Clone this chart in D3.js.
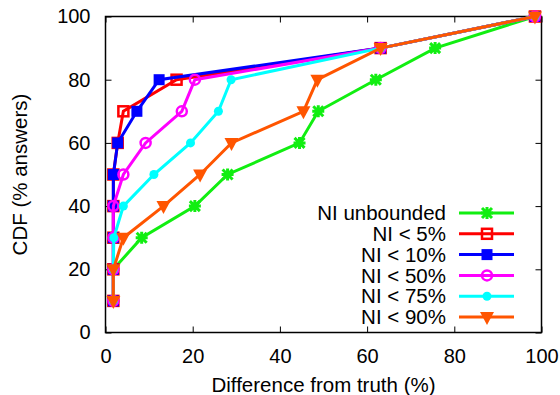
<!DOCTYPE html>
<html>
<head>
<meta charset="utf-8">
<script src="https://cdn.jsdelivr.net/npm/d3@7"></script>
<style>
  body { margin: 0; background: #fff; }
  text { font-family: "Liberation Sans", Arial, sans-serif; fill: #000; }
</style>
</head>
<body>
<svg id="chart"></svg>
<script>
// CDF levels (y) shared by every series
const cdf = [10, 20, 30, 40, 50, 60, 70, 80, 90, 100];

// difference from truth (%) at each CDF level
const niUnbounded = [1.8, 1.8, 8.3, 20.5, 28.0, 44.5, 48.8, 62.0, 75.6, 98.5];
const ni5  = [1.8, 1.8, 1.8, 1.8, 1.8, 2.8, 4.1, 16.3, 63.1, 98.5];
const ni10 = [1.8, 1.8, 1.8, 1.8, 1.8, 2.8, 7.2, 12.3, 63.1, 98.5];
const ni50 = [1.8, 1.8, 1.8, 1.8, 4.1, 9.2, 17.5, 20.5, 63.1, 98.5];
const ni75 = [1.8, 1.8, 1.9, 4.1, 11.1, 19.5, 25.9, 28.8, 63.1, 98.5];
const ni90 = [1.8, 1.8, 4.1, 13.3, 21.7, 28.9, 45.4, 48.6, 63.1, 98.5];

const seriesNames = ["NI unbounded", "NI < 5%", "NI < 10%", "NI < 50%", "NI < 75%", "NI < 90%"];
const xTicks = [0, 20, 40, 60, 80, 100];
const yTicks = [0, 20, 40, 60, 80, 100];

const width = 560, height = 395;
const margin = {left: 105.5, right: 18.5, top: 16.5, bottom: 62.5};

const svg = d3.select("#chart").attr("width", width).attr("height", height);

const x = d3.scaleLinear().domain([0, 100]).range([margin.left, width - margin.right]);
const y = d3.scaleLinear().domain([0, 100]).range([height - margin.bottom, margin.top]);

const series = [
  {name: seriesNames[0], xs: niUnbounded, color: "#11ee11", shape: "star"},
  {name: seriesNames[1], xs: ni5, color: "#ff0000", shape: "openSquare"},
  {name: seriesNames[2], xs: ni10, color: "#0000ff", shape: "square"},
  {name: seriesNames[3], xs: ni50, color: "#ff00ff", shape: "openCircle"},
  {name: seriesNames[4], xs: ni75, color: "#00ffff", shape: "circle"},
  {name: seriesNames[5], xs: ni90, color: "#ff5500", shape: "triangle"}
];

function marker(g, shape, color) {
  if (shape == "star") {
    g.append("path").attr("d", "M-5,-5L5,5M-5,5L5,-5M0,-6L0,6M-6,0L6,0")
      .attr("stroke", color).attr("stroke-width", 3);
  } else if (shape == "openSquare") {
    g.append("rect").attr("x", -5).attr("y", -5).attr("width", 10).attr("height", 10)
      .attr("fill", "none").attr("stroke", color).attr("stroke-width", 2.5);
  } else if (shape == "square") {
    g.append("rect").attr("x", -5.5).attr("y", -5.5).attr("width", 11).attr("height", 11)
      .attr("fill", color);
  } else if (shape == "openCircle") {
    g.append("circle").attr("r", 5).attr("fill", "none").attr("stroke", color).attr("stroke-width", 2.5);
  } else if (shape == "circle") {
    g.append("circle").attr("r", 4.5).attr("fill", color);
  } else {
    g.append("path").attr("d", "M-7,-5L7,-5L0,8Z").attr("fill", color);
  }
}

// axes, gnuplot style with inward ticks on all sides
const axes = svg.append("g");
axes.append("g").attr("transform", `translate(0,${y(0)})`)
  .call(d3.axisBottom(x).tickValues(xTicks).tickSize(-6).tickPadding(16));
axes.append("g").attr("transform", `translate(0,${y(100)})`)
  .call(d3.axisTop(x).tickValues(xTicks).tickSize(-6).tickFormat(""));
axes.append("g").attr("transform", `translate(${x(0)},0)`)
  .call(d3.axisLeft(y).tickValues(yTicks).tickSize(-6).tickPadding(15));
axes.append("g").attr("transform", `translate(${x(100)},0)`)
  .call(d3.axisRight(y).tickValues(yTicks).tickSize(-6).tickFormat(""));
axes.selectAll(".domain").remove();
axes.selectAll(".tick line").attr("stroke", "#000").attr("stroke-width", 1);
axes.selectAll("text").attr("font-size", 20).attr("font-family", "Liberation Sans, Arial, sans-serif");

svg.append("rect")
  .attr("x", x(0)).attr("y", y(100))
  .attr("width", x(100) - x(0)).attr("height", y(0) - y(100))
  .attr("fill", "none").attr("stroke", "#000").attr("stroke-width", 1.5);

const line = d3.line().x(d => x(d[0])).y(d => y(d[1]));

series.forEach(s => {
  const pts = s.xs.map((v, i) => [v, cdf[i]]);
  svg.append("path").datum(pts).attr("d", line)
    .attr("fill", "none").attr("stroke", s.color).attr("stroke-width", 3);
  pts.forEach(p => {
    marker(svg.append("g").attr("transform", `translate(${x(p[0])},${y(p[1])})`), s.shape, s.color);
  });
});

// legend
const legend = svg.append("g");
series.forEach((s, i) => {
  const ly = 213 + i * 20.8;
  legend.append("text").attr("x", 446).attr("y", ly).attr("dy", "0.35em")
    .attr("text-anchor", "end").attr("font-size", 20.5).text(s.name);
  legend.append("line").attr("x1", 459).attr("x2", 514).attr("y1", ly).attr("y2", ly)
    .attr("stroke", s.color).attr("stroke-width", 3);
  marker(legend.append("g").attr("transform", `translate(487,${ly})`), s.shape, s.color);
});

// axis titles
svg.append("text").attr("x", (x(0) + x(100)) / 2).attr("y", 392)
  .attr("text-anchor", "middle").attr("font-size", 20.5).text("Difference from truth (%)");
svg.append("text").attr("transform", `translate(27,${(y(0) + y(100)) / 2}) rotate(-90)`)
  .attr("text-anchor", "middle").attr("font-size", 20.5).text("CDF (% answers)");
</script>
</body>
</html>
